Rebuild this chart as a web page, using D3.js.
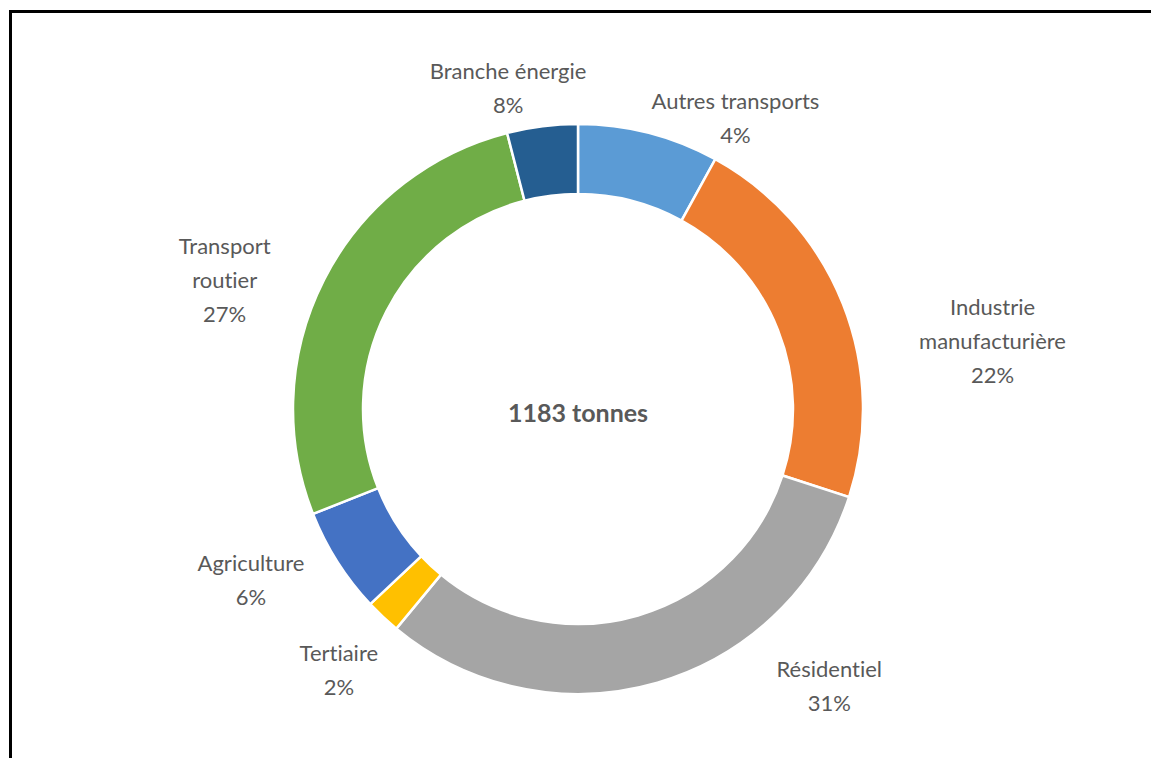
<!DOCTYPE html>
<html lang="fr">
<head>
  <meta charset="UTF-8">
  <title>Emissions par secteur</title>
  <style>
    body { margin: 0; background: #fff; }
    svg text { font-family: Lato, "Open Sans", sans-serif; font-variant-ligatures: none; }
  </style>
</head>
<body>
<script src="https://d3js.org/d3.v7.min.js"></script>
<script>
  // slices clockwise from 12 o'clock
  const categories = ["Autres transports", "Industrie manufacturière", "Résidentiel", "Tertiaire", "Agriculture", "Transport routier", "Branche énergie"];
  const values = [8, 22, 31, 2, 6, 27, 4];
  // percentages as printed on the labels
  const shownPct = ["4%", "22%", "31%", "2%", "6%", "27%", "8%"];
  const labelLines = [["Autres transports"], ["Industrie", "manufacturière"], ["Résidentiel"], ["Tertiaire"], ["Agriculture"], ["Transport", "routier"], ["Branche énergie"]];
  const colors = ["#5b9bd5", "#ed7d31", "#a5a5a5", "#ffc000", "#4472c4", "#70ad47", "#255e91"];
  const total = "1183 tonnes";

  // label placement: angle (deg, clockwise from top) and radius of the label block centre
  const labelPos = [[28.4, 331], [80.7, 420], [137.8, 374], [222.5, 354], [242.4, 369], [290, 376], [347.7, 328]];

  const W = 1151, H = 758;
  const cx = 578, cy = 409, rOuter = 285, rInner = 215;

  const svg = d3.select("body").append("svg")
    .attr("width", W)
    .attr("height", H);

  // frame (top + left edges only)
  svg.append("path")
    .attr("d", `M10.5,${H} L10.5,11.5 L${W},11.5`)
    .attr("fill", "none")
    .attr("stroke", "#000")
    .attr("stroke-width", 3);

  const pie = d3.pie().sort(null).value(d => d);
  const arc = d3.arc().innerRadius(rInner).outerRadius(rOuter);

  const g = svg.append("g").attr("transform", `translate(${cx},${cy})`);

  g.selectAll("path.slice")
    .data(pie(values))
    .join("path")
    .attr("class", "slice")
    .attr("d", arc)
    .attr("fill", (d, i) => colors[i])
    .attr("stroke", "#fff")
    .attr("stroke-width", 2.5);

  const lineH = 34;
  const labels = g.selectAll("text.lbl")
    .data(categories)
    .join("text")
    .attr("class", "lbl")
    .attr("text-anchor", "middle")
    .attr("fill", "#595959")
    .attr("font-size", 22)
    .attr("transform", (d, i) => {
      const a = labelPos[i][0] * Math.PI / 180, r = labelPos[i][1];
      return `translate(${r * Math.sin(a)},${-r * Math.cos(a)})`;
    });

  labels.each(function(d, i) {
    const lines = labelLines[i].concat([shownPct[i]]);
    const t = d3.select(this);
    const y0 = -(lines.length - 1) * lineH / 2;
    lines.forEach((s, k) => {
      t.append("tspan")
        .attr("x", 0)
        .attr("y", y0 + k * lineH)
        .attr("dy", "0.35em")
        .text(s);
    });
  });

  g.append("text")
    .attr("text-anchor", "middle")
    .attr("dy", "0.35em")
    .attr("y", 4)
    .attr("fill", "#595959")
    .attr("font-size", 25)
    .attr("font-weight", "bold")
    .text(total);
</script>
</body>
</html>
